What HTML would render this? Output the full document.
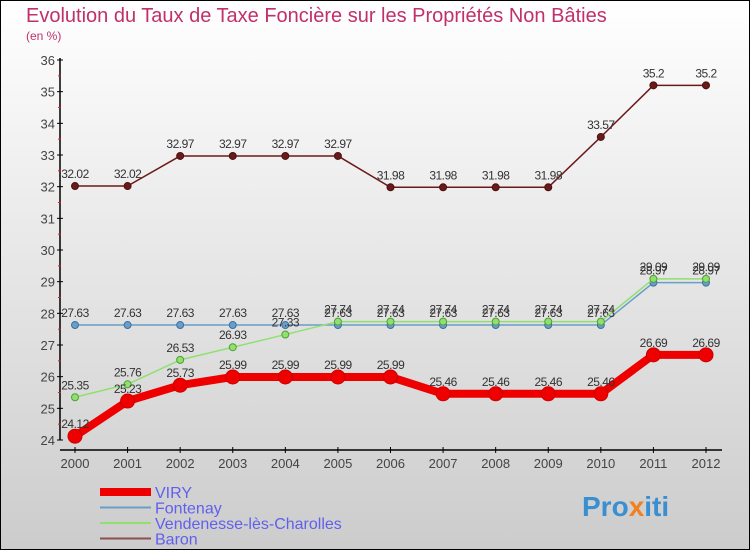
<!DOCTYPE html>
<html><head><meta charset="utf-8"><style>
body{margin:0}
svg{display:block;font-family:"Liberation Sans","DejaVu Sans",sans-serif}
</style></head><body>
<svg id="c" width="750" height="550" viewBox="0 0 750 550">
<defs><linearGradient id="bg" x1="0" y1="0" x2="0" y2="1"><stop offset="0" stop-color="#ffffff"/><stop offset="1" stop-color="#cccccc"/></linearGradient></defs>
<rect x="0.5" y="0.5" width="749" height="549" fill="url(#bg)" stroke="#000"/>
<text x="26" y="22" font-size="20" fill="#c0306a">Evolution du Taux de Taxe Foncière sur les Propriétés Non Bâties</text>
<text x="26" y="40" font-size="12" fill="#c0306a">(en %)</text>
<g id="axes"></g>
<g id="series"></g>
<g id="legend"></g>
<text x="582" y="516" font-size="28" font-weight="bold" fill="#3a8fd0">Pro<tspan fill="#f08020">x</tspan>iti</text>
</svg>
<script>
const years=[2000,2001,2002,2003,2004,2005,2006,2007,2008,2009,2010,2011,2012];
const yTicks=[24,25,26,27,28,29,30,31,32,33,34,35,36];
const viry=[24.12,25.23,25.73,25.99,25.99,25.99,25.99,25.46,25.46,25.46,25.46,26.69,26.69];
const fontenay=[27.63,27.63,27.63,27.63,27.63,27.63,27.63,27.63,27.63,27.63,27.63,28.97,28.97];
const vendenesse=[25.35,25.76,26.53,26.93,27.33,27.74,27.74,27.74,27.74,27.74,27.74,29.09,29.09];
const baron=[32.02,32.02,32.97,32.97,32.97,32.97,31.98,31.98,31.98,31.98,33.57,35.2,35.2];
const NS="http://www.w3.org/2000/svg";
const X=i=>75+i*(706-75)/12;
const Y=v=>440-(v-24)*(380/12);
function mk(tag,attrs,parent){const e=document.createElementNS(NS,tag);for(const k in attrs)e.setAttribute(k,attrs[k]);parent.appendChild(e);return e;}
const ax=document.getElementById('axes');
let a=mk('line',{x1:60,y1:58,x2:60,y2:440,stroke:'#000','stroke-width':1.5},ax);


a=mk('line',{x1:60,y1:450,x2:722,y2:450,stroke:'#000','stroke-width':1.5},ax);


yTicks.forEach(t=>{
  mk('line',{x1:57,y1:Y(t),x2:63,y2:Y(t),stroke:'#000'},ax);
  if(t<36)mk('line',{x1:58,y1:Y(t+0.5),x2:61,y2:Y(t+0.5),stroke:'#e02020'},ax);
  const tx=mk('text',{x:55,y:Y(t)+5,'text-anchor':'end','font-size':13,fill:'#444'},ax);
  tx.textContent=t;
  
  
});
years.forEach((y,i)=>{
  mk('line',{x1:X(i),y1:447,x2:X(i),y2:453,stroke:'#000'},ax);
  const tx=mk('text',{x:X(i),y:468,'text-anchor':'middle','font-size':13,fill:'#444'},ax);
  tx.textContent=y;
  
  
});
const sg=document.getElementById('series');
function series(vals,color,w,r,name,dark){
  const g=mk('g',{},sg);
  
  
  const p=mk('polyline',{points:vals.map((v,i)=>X(i)+','+Y(v)).join(' '),fill:'none',stroke:color,'stroke-width':w,'stroke-linejoin':'round'},g);
  
  
  vals.forEach((v,i)=>{
    const c=mk('circle',{cx:X(i),cy:Y(v),r:r,fill:color,stroke:dark,'stroke-width':1},g);
    
    
    const t=mk('text',{x:X(i),y:Y(v)-8,'text-anchor':'middle','font-size':12,fill:'#333','letter-spacing':'-0.5'},g);
    t.textContent=v;
    
    
  });
}
series(baron,'#6b1a1a',1.5,3.5,'baron','#4a1010');
series(fontenay,'#6a9ec8',1.5,3.5,'fontenay','#3a70a0');
series(vendenesse,'#90e070',1.5,3.5,'vendenesse','#50a030');
series(viry,'#ee0000',8,7,'viry','#cc0000');
const lg=document.getElementById('legend');
[['VIRY','#ee0000',8],['Fontenay','#6a9ec8',2],['Vendenesse-lès-Charolles','#90e070',2],['Baron','#8a5050',2]].forEach((d,i)=>{
  const y=492+i*15.5;
  const l=mk('line',{x1:100,y1:y,x2:151,y2:y,stroke:d[1],'stroke-width':d[2]},lg);
  
  
  const t=mk('text',{x:155,y:y+6,'font-size':16,fill:'#6060ee'},lg);
  t.textContent=d[0];
  
  
});
</script>
</body></html>
